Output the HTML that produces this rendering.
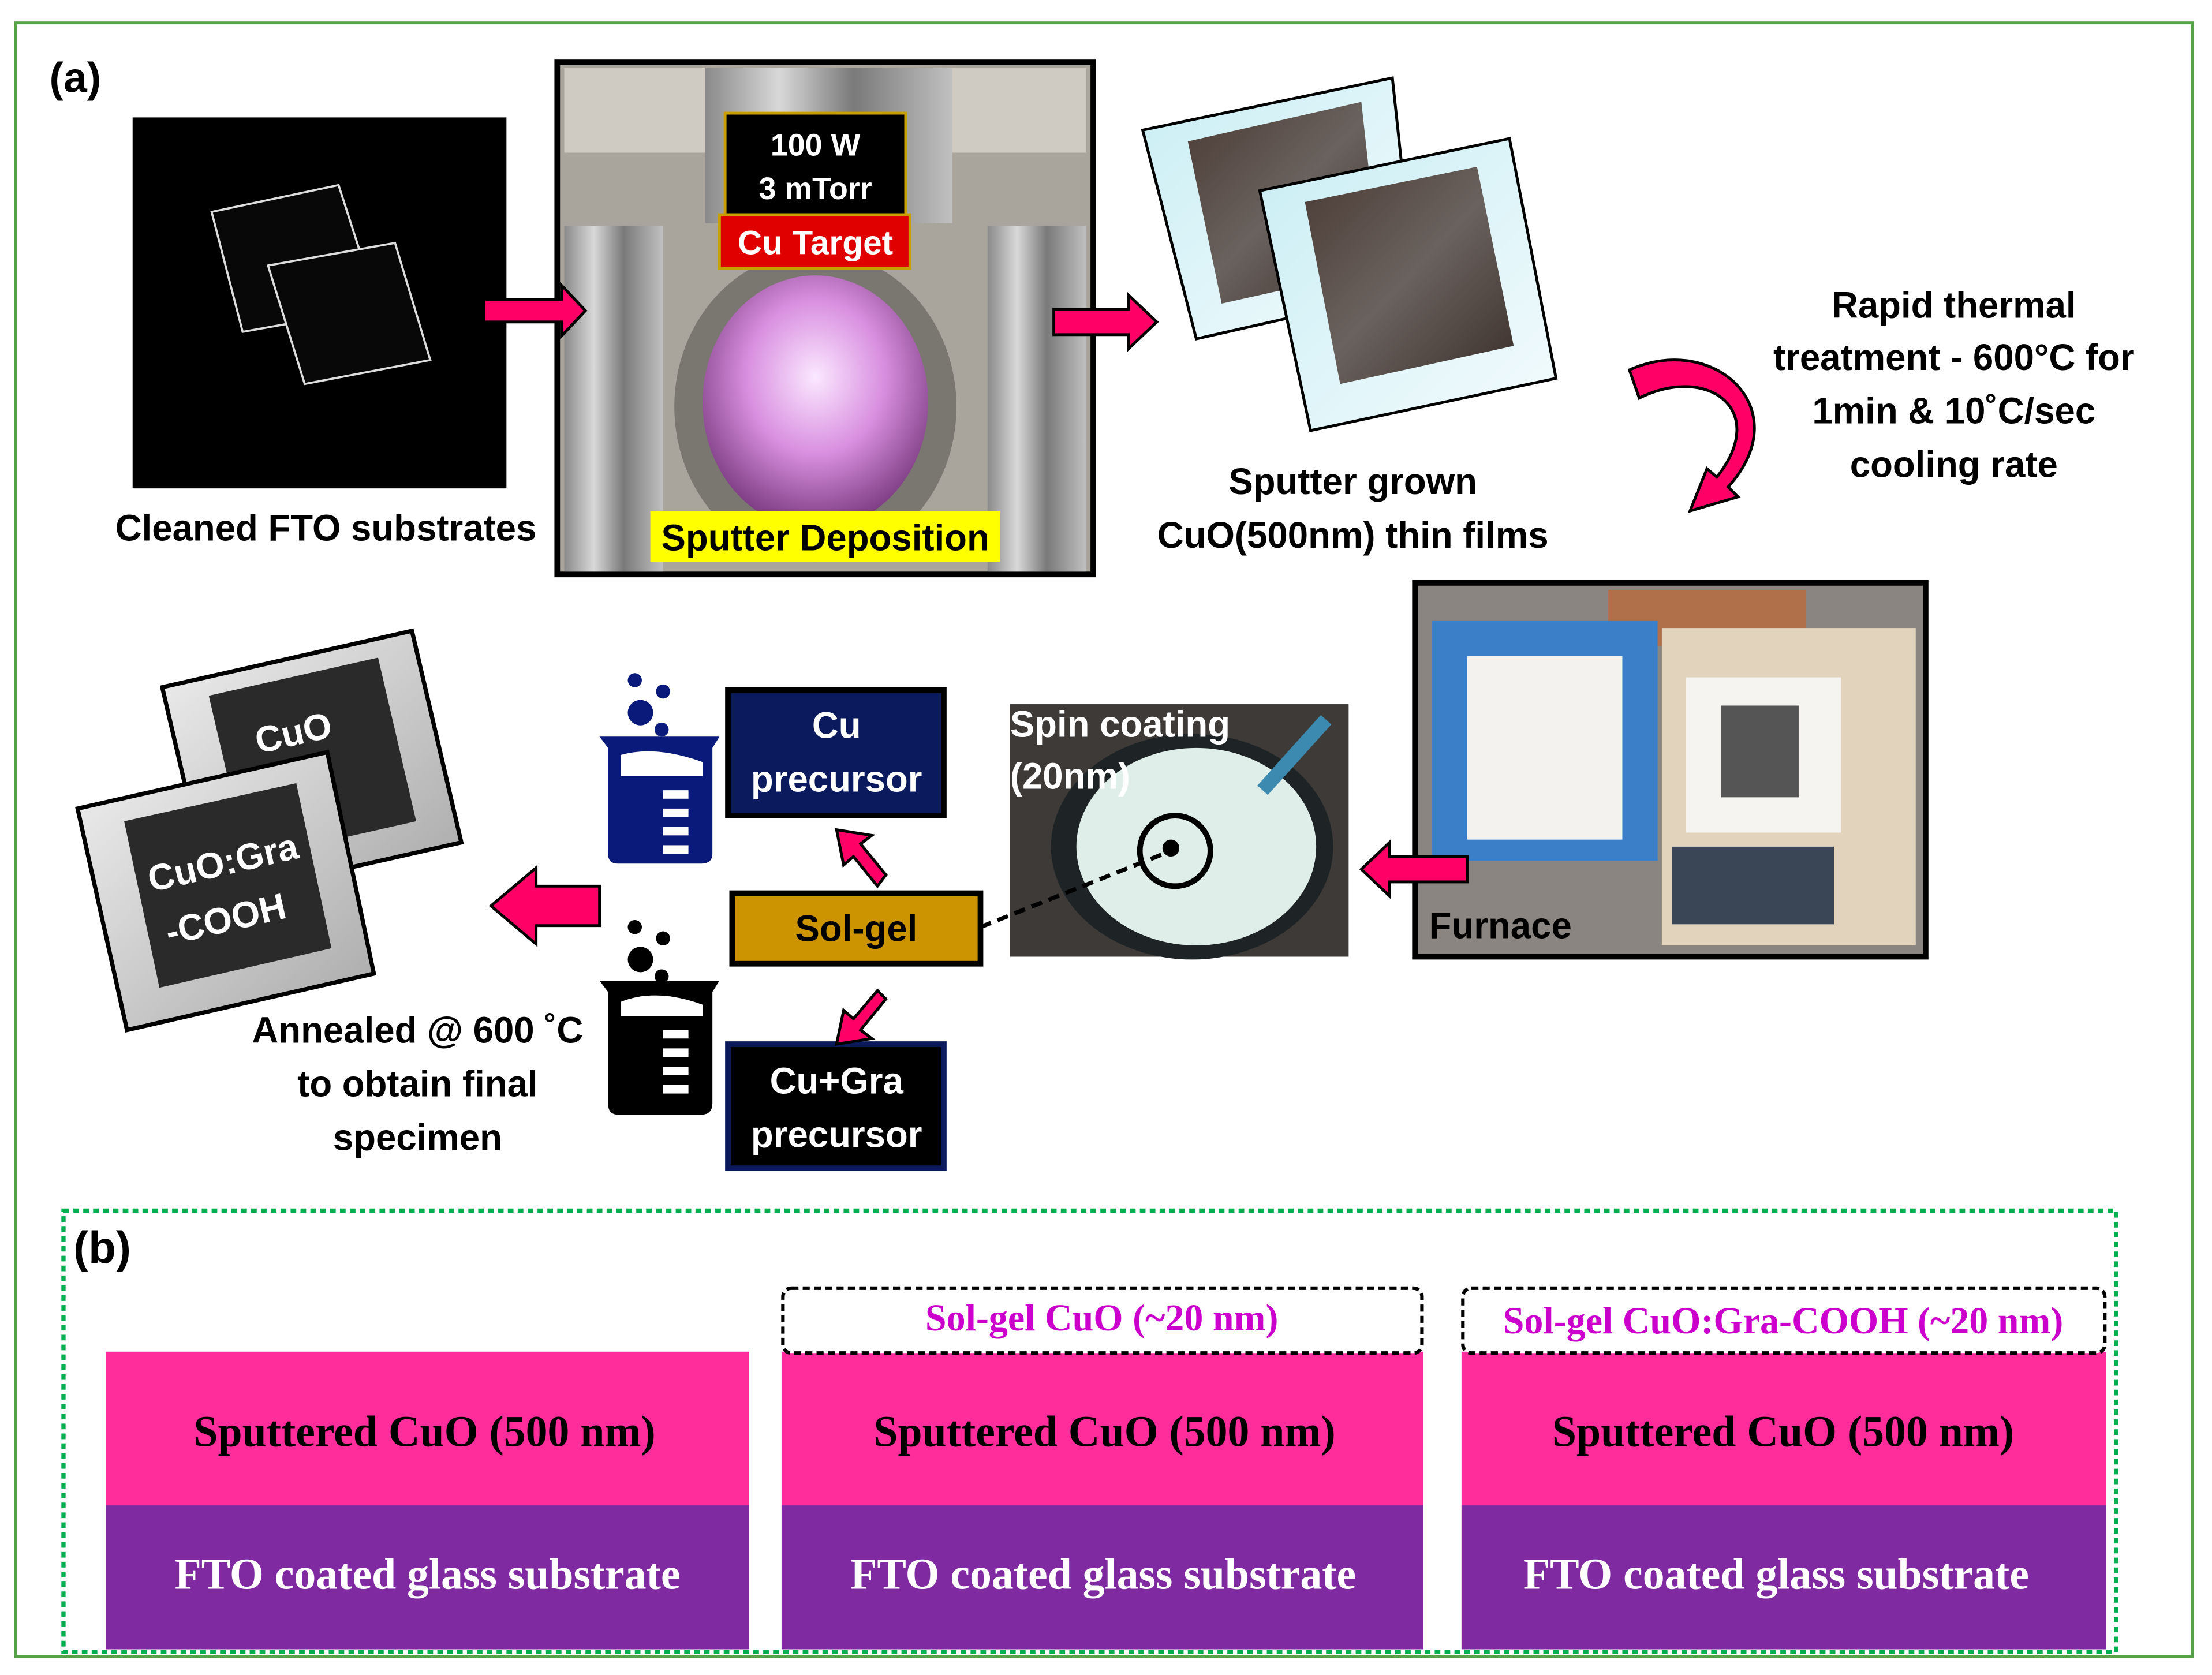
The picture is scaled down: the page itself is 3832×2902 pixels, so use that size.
<!DOCTYPE html>
<html><head><meta charset="utf-8"><style>
html,body{margin:0;padding:0;background:#fff}
svg{display:block}
text{font-family:"Liberation Sans",sans-serif;font-weight:bold}
.s{font-family:"Liberation Serif",serif;font-weight:bold}
</style></head><body>
<svg width="3832" height="2902" viewBox="0 0 1568 1187" xmlns="http://www.w3.org/2000/svg">
<defs>
<radialGradient id="pl" cx="50%" cy="40%" r="60%"><stop offset="0" stop-color="#fbe8ff"/><stop offset="0.5" stop-color="#d990e0"/><stop offset="1" stop-color="#7a3a80"/></radialGradient>
<linearGradient id="met" x1="0" x2="1"><stop offset="0" stop-color="#8a8a8a"/><stop offset="0.3" stop-color="#d8d8d8"/><stop offset="0.6" stop-color="#7a7a7a"/><stop offset="1" stop-color="#c0c0c0"/></linearGradient>
<linearGradient id="film" x1="0" y1="0" x2="1" y2="1"><stop offset="0" stop-color="#4a3a34"/><stop offset="0.5" stop-color="#6a625e"/><stop offset="1" stop-color="#3a2e2a"/></linearGradient>
<linearGradient id="gl" x1="0" y1="0" x2="1" y2="1"><stop offset="0" stop-color="#c9eef4"/><stop offset="1" stop-color="#f4fbfd"/></linearGradient>
<linearGradient id="sil" x1="0" y1="0" x2="1" y2="1"><stop offset="0" stop-color="#f0f0f0"/><stop offset="1" stop-color="#a8a8a8"/></linearGradient>
</defs>
<rect width="1568" height="1187" fill="#fff"/>
<rect x="11" y="16" width="1543" height="1158" fill="none" stroke="#56a048" stroke-width="2"/>
<text x="35" y="65" font-size="30">(a)</text>

<!-- cleaned FTO -->
<rect x="94" y="83" width="265" height="263" fill="#000"/>
<g stroke="#ddd" stroke-width="1.5">
<polygon points="150,150 240,131 268,218 172,235" fill="#080808"/>
<polygon points="190,188 280,172 305,255 216,272" fill="#080808"/>
</g>
<text x="231" y="383" font-size="26" text-anchor="middle">Cleaned FTO substrates</text>

<!-- sputter photo -->
<rect x="395" y="44" width="380" height="363" fill="#a9a49c" stroke="#000" stroke-width="4"/>
<rect x="400" y="48" width="370" height="60" fill="#cfcac2"/>
<rect x="500" y="48" width="175" height="110" fill="url(#met)"/>
<rect x="400" y="160" width="70" height="245" fill="url(#met)"/>
<rect x="700" y="160" width="70" height="245" fill="url(#met)"/>
<ellipse cx="578" cy="288" rx="100" ry="110" fill="#7a7670"/>
<ellipse cx="578" cy="285" rx="80" ry="90" fill="url(#pl)"/>
<rect x="514" y="80" width="128" height="72" fill="#000" stroke="#c8a000" stroke-width="2"/>
<text x="578" y="110" font-size="22" fill="#fff" text-anchor="middle">100 W</text>
<text x="578" y="141" font-size="22" fill="#fff" text-anchor="middle">3 mTorr</text>
<rect x="510" y="152" width="135" height="38" fill="#e00000" stroke="#c8a000" stroke-width="2"/>
<text x="578" y="180" font-size="24" fill="#fff" text-anchor="middle">Cu Target</text>
<rect x="461" y="362" width="248" height="36" fill="#ffff00"/>
<text x="585" y="390" font-size="26" text-anchor="middle">Sputter Deposition</text>

<!-- films -->
<g stroke="#000" stroke-width="2">
<polygon points="810,92 987,55 1003,205 848,240" fill="url(#gl)"/>
<polygon points="842,100 965,72 978,190 866,215" fill="url(#film)" stroke="none"/>
<polygon points="893,135 1070,98 1103,268 929,305" fill="url(#gl)"/>
<polygon points="925,143 1047,118 1073,245 950,272" fill="url(#film)" stroke="none"/>
</g>
<text x="959" y="350" font-size="26" text-anchor="middle">Sputter grown</text>
<text x="959" y="388" font-size="26" text-anchor="middle">CuO(500nm) thin films</text>
<g font-size="26" text-anchor="middle">
<text x="1385" y="225">Rapid thermal</text>
<text x="1385" y="262">treatment - 600°C for</text>
<text x="1385" y="300">1min &amp; 10˚C/sec</text>
<text x="1385" y="338">cooling rate</text>
</g>

<!-- furnace -->
<rect x="1003" y="413" width="362" height="265" fill="#8a8580" stroke="#000" stroke-width="4"/>
<rect x="1140" y="418" width="140" height="40" fill="#b0704a"/>
<rect x="1015" y="440" width="160" height="170" fill="#3b7fc8"/>
<rect x="1040" y="465" width="110" height="130" fill="#f4f2ee"/>
<rect x="1178" y="445" width="180" height="225" fill="#e2d3bd"/>
<rect x="1195" y="480" width="110" height="110" fill="#f6f4f0"/>
<rect x="1220" y="500" width="55" height="65" fill="#555"/>
<rect x="1185" y="600" width="115" height="55" fill="#3a4656"/>
<text x="1013" y="665" font-size="26">Furnace</text>

<!-- spin coating -->
<rect x="716" y="499" width="240" height="179" fill="#3d3a38"/>
<ellipse cx="845" cy="600" rx="100" ry="80" fill="#1e2426"/>
<ellipse cx="848" cy="600" rx="85" ry="70" fill="#dfeee8"/>
<line x1="895" y1="560" x2="940" y2="510" stroke="#3d8ab0" stroke-width="10"/>
<g fill="#fff" font-size="26"><text x="716" y="522">Spin coating</text><text x="716" y="559">(20nm)</text></g>
<circle cx="833" cy="603" r="25" fill="none" stroke="#000" stroke-width="4"/>
<circle cx="830" cy="601" r="6" fill="#000"/>
<line x1="695" y1="657" x2="825" y2="605" stroke="#000" stroke-width="3" stroke-dasharray="8,5"/>

<!-- boxes -->
<rect x="519" y="633" width="176" height="50" fill="#cc9400" stroke="#000" stroke-width="4"/>
<text x="607" y="667" font-size="26" text-anchor="middle">Sol-gel</text>
<rect x="516" y="489" width="153" height="89" fill="#0a1a5c" stroke="#000" stroke-width="4"/>
<text x="593" y="523" font-size="26" fill="#fff" text-anchor="middle">Cu</text>
<text x="593" y="561" font-size="26" fill="#fff" text-anchor="middle">precursor</text>
<rect x="516" y="740" width="153" height="88" fill="#000" stroke="#0a1a5c" stroke-width="4"/>
<text x="593" y="775" font-size="26" fill="#fff" text-anchor="middle">Cu+Gra</text>
<text x="593" y="813" font-size="26" fill="#fff" text-anchor="middle">precursor</text>

<!-- beakers -->
<g fill="#0a1a7a">
<circle cx="450" cy="482" r="5"/><circle cx="470" cy="490" r="5"/><circle cx="454" cy="505" r="9"/><circle cx="469" cy="517" r="5"/>
<path d="M425,522 L510,522 L505,530 L505,605 Q505,612 497,612 L438,612 Q431,612 431,605 L431,530 Z"/>
</g>
<path d="M440,535 Q465,528 498,540 L498,550 L440,550 Z" fill="#fff"/>
<g fill="#fff"><rect x="470" y="560" width="18" height="6"/><rect x="470" y="573" width="18" height="6"/><rect x="470" y="586" width="18" height="6"/><rect x="470" y="599" width="18" height="6"/></g>
<g fill="#000">
<circle cx="450" cy="657" r="5"/><circle cx="470" cy="665" r="5"/><circle cx="454" cy="680" r="9"/><circle cx="469" cy="692" r="5"/>
<path d="M425,695 L510,695 L505,703 L505,782 Q505,790 497,790 L438,790 Q431,790 431,782 L431,703 Z"/>
</g>
<path d="M440,710 Q465,700 498,712 L498,720 L440,720 Z" fill="#fff"/>
<g fill="#fff"><rect x="470" y="730" width="18" height="6"/><rect x="470" y="743" width="18" height="6"/><rect x="470" y="756" width="18" height="6"/><rect x="470" y="769" width="18" height="6"/></g>

<!-- CuO squares -->
<polygon points="115,487 292,447 327,597 150,637" fill="url(#sil)" stroke="#000" stroke-width="3"/>
<polygon points="148,493 268,466 295,582 175,609" fill="#2a2a2a"/>
<text x="210" y="528" font-size="26" fill="#fff" text-anchor="middle" transform="rotate(-13 210 528)">CuO</text>
<polygon points="55,573 232,533 265,690 90,730" fill="url(#sil)" stroke="#000" stroke-width="3"/>
<polygon points="88,582 210,555 235,672 113,700" fill="#2a2a2a"/>
<text x="160" y="620" font-size="26" fill="#fff" text-anchor="middle" transform="rotate(-13 160 620)">CuO:Gra</text>
<text x="162" y="660" font-size="26" fill="#fff" text-anchor="middle" transform="rotate(-13 162 660)">-COOH</text>
<g font-size="26" text-anchor="middle">
<text x="296" y="739">Annealed @ 600 ˚C</text>
<text x="296" y="777">to obtain final</text>
<text x="296" y="815">specimen</text>
</g>

<!-- arrows (on top) -->
<g fill="#ff0066" stroke="#000" stroke-width="2">
<polygon points="343,212 398,212 398,202 415,220 398,238 398,228 343,228"/>
<polygon points="747,219 800,219 800,209 820,228 800,247 800,237 747,237"/>
<polygon points="1040,607 985,607 985,597 965,616 985,635 985,625 1040,625"/>
<polygon points="425,628 380,628 380,615 348,642 380,669 380,656 425,656"/>
<polygon points="628,620 610,598 618,592 593,588 598,613 605,607 622,628"/>
<polygon points="622,702 605,722 598,716 593,740 618,736 610,730 628,708"/>
</g>
<path d="M1155,262 C1215,235 1275,290 1225,345 L1232,352 L1198,362 L1210,332 L1217,338 C1255,290 1210,258 1162,282 Z" fill="#ff0066" stroke="#000" stroke-width="2"/>

<!-- (b) -->
<rect x="45" y="858" width="1455" height="313" fill="none" stroke="#00b050" stroke-width="3" stroke-dasharray="4,3"/>
<text x="52" y="895" font-size="32">(b)</text>
<g>
<rect x="75" y="958" width="456" height="110" fill="#ff2d9b"/>
<rect x="75" y="1067" width="456" height="102" fill="#7f2aa0"/>
<rect x="554" y="958" width="455" height="110" fill="#ff2d9b"/>
<rect x="554" y="1067" width="455" height="102" fill="#7f2aa0"/>
<rect x="1036" y="958" width="457" height="110" fill="#ff2d9b"/>
<rect x="1036" y="1067" width="457" height="102" fill="#7f2aa0"/>
</g>
<rect x="555" y="913" width="453" height="46" rx="6" fill="#fff" stroke="#000" stroke-width="2.5" stroke-dasharray="5,3"/>
<rect x="1037" y="913" width="455" height="46" rx="6" fill="#fff" stroke="#000" stroke-width="2.5" stroke-dasharray="5,3"/>
<text class="s" x="781" y="943" font-size="27" fill="#cc00cc" text-anchor="middle">Sol-gel CuO (~20 nm)</text>
<text class="s" x="1264" y="945" font-size="27" fill="#cc00cc" text-anchor="middle">Sol-gel CuO:Gra-COOH (~20 nm)</text>
<g font-size="31" text-anchor="middle">
<text class="s" x="301" y="1025">Sputtered CuO (500 nm)</text>
<text class="s" x="783" y="1025">Sputtered CuO (500 nm)</text>
<text class="s" x="1264" y="1025">Sputtered CuO (500 nm)</text>
<text class="s" x="303" y="1126" fill="#fff">FTO coated glass substrate</text>
<text class="s" x="782" y="1126" fill="#fff">FTO coated glass substrate</text>
<text class="s" x="1259" y="1126" fill="#fff">FTO coated glass substrate</text>
</g>
</svg>
</body></html>
